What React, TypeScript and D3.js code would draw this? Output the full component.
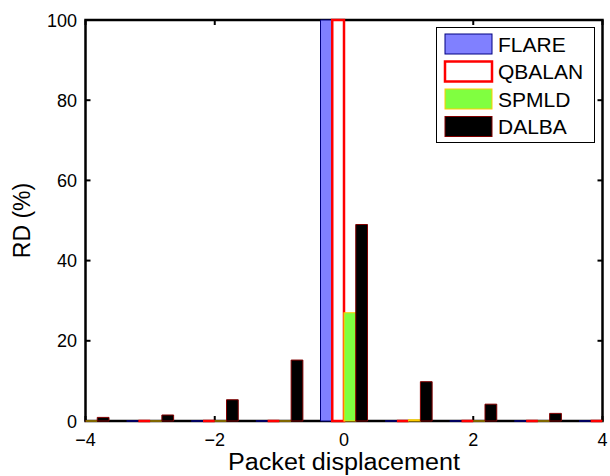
import React from "react";
import * as d3 from "d3";

const positions = [-4, -3, -2, -1, 0, 1, 2, 3, 4];
const seriesNames = ["FLARE", "QBALAN", "SPMLD", "DALBA"];
const flare = [0, 0, 0, 0, 100, 0, 0, 0, 0];
const qbalan = [0, 0, 0, 0, 100, 0, 0, 0, 0];
const spmld = [0, 0, 0, 0, 27, 0.3, 0, 0, 0];
const dalba = [0.9, 1.5, 5.3, 15.2, 49, 9.8, 4.2, 1.9, 0];
const xTicks = [-4, -2, 0, 2, 4];
const yTicks = [0, 20, 40, 60, 80, 100];

const fills = ["#8080ff", "#ffffff", "#80ff40", "#000000"];
const strokes = ["#000080", "#ff0000", "#ffcc00", "#800000"];
const strokeWidths = [1, 2.5, 1.2, 1];

const W = 610, H = 476;
const L = 85.5, R = 602.5, T = 20, B = 421;
const FONT = "'Liberation Sans', Arial, Helvetica, sans-serif";

export default function App() {
  const x = d3.scaleLinear().domain([-4, 4]).range([L, R]);
  const y = d3.scaleLinear().domain([0, 100]).range([B, T]);
  const all = [flare, qbalan, spmld, dalba];
  const n = all.length;
  const groupWidth = n / (n + 1.5);
  const barW = groupWidth / n;
  const tickLen = 5;
  const fmt = (v: number) => (v < 0 ? "\u2212" + Math.abs(v) : String(v));

  return (
    <svg width={W} height={H} style={{ position: "absolute", left: 0, top: 0, background: "#fff" }} fontFamily={FONT}>
      <defs>
        <clipPath id="plotclip">
          <rect x={L} y={T - 2} width={R - L} height={B - T + 4} />
        </clipPath>
      </defs>
      <rect x={0} y={0} width={W} height={H} fill="#fff" />
      {/* frame */}
      <rect x={L} y={T} width={R - L} height={B - T} fill="none" stroke="#000" strokeWidth={2.5} />
      {/* ticks */}
      {xTicks.map((t) => (
        <g key={"xt" + t}>
          <line x1={x(t)} x2={x(t)} y1={B} y2={B - tickLen} stroke="#000" strokeWidth={2} />
          <line x1={x(t)} x2={x(t)} y1={T} y2={T + tickLen} stroke="#000" strokeWidth={2} />
          <text x={x(t)} y={446} textAnchor="middle" fontSize={18}>{fmt(t)}</text>
        </g>
      ))}
      {yTicks.map((t) => (
        <g key={"yt" + t}>
          <line x1={L} x2={L + tickLen} y1={y(t)} y2={y(t)} stroke="#000" strokeWidth={2} />
          <line x1={R} x2={R - tickLen} y1={y(t)} y2={y(t)} stroke="#000" strokeWidth={2} />
          <text x={77} y={y(t) + 6.5} textAnchor="end" fontSize={18}>{t}</text>
        </g>
      ))}
      {/* bars */}
      <g clipPath="url(#plotclip)">
        {all.map((vals, si) =>
          vals.map((v, i) => {
            const c = positions[i] + (si - (n - 1) / 2) * barW;
            const x0 = x(c - barW / 2);
            const x1 = x(c + barW / 2);
            const y0 = y(v);
            const yb = y(0);
            const d = `M${x0},${yb}V${y0}H${x1}V${yb}Z`;
            return (
              <path
                key={si + "-" + i}
                d={d}
                fill={fills[si]}
                stroke={strokes[si]}
                strokeWidth={strokeWidths[si]}
              />
            );
          })
        )}
      </g>
      {/* axis labels */}
      <text x={344} y={470} textAnchor="middle" fontSize={23} textLength={232} lengthAdjust="spacingAndGlyphs">Packet displacement</text>
      <text transform={`translate(30,${(T + B) / 2}) rotate(-90)`} textAnchor="middle" fontSize={23}>RD (%)</text>
      {/* legend */}
      <g>
        <rect x={436.5} y={27.5} width={158} height={115} fill="#fff" stroke="#000" strokeWidth={1} />
        {seriesNames.map((name, i) => {
          const cy = 44 + i * 27.5;
          return (
            <g key={name}>
              <rect x={445} y={cy - 10} width={47} height={20} fill={fills[i]} stroke={strokes[i]} strokeWidth={i === 1 ? 2.5 : 1} />
              <text x={498} y={cy + 7.5} fontSize={21}>{name}</text>
            </g>
          );
        })}
      </g>
    </svg>
  );
}
